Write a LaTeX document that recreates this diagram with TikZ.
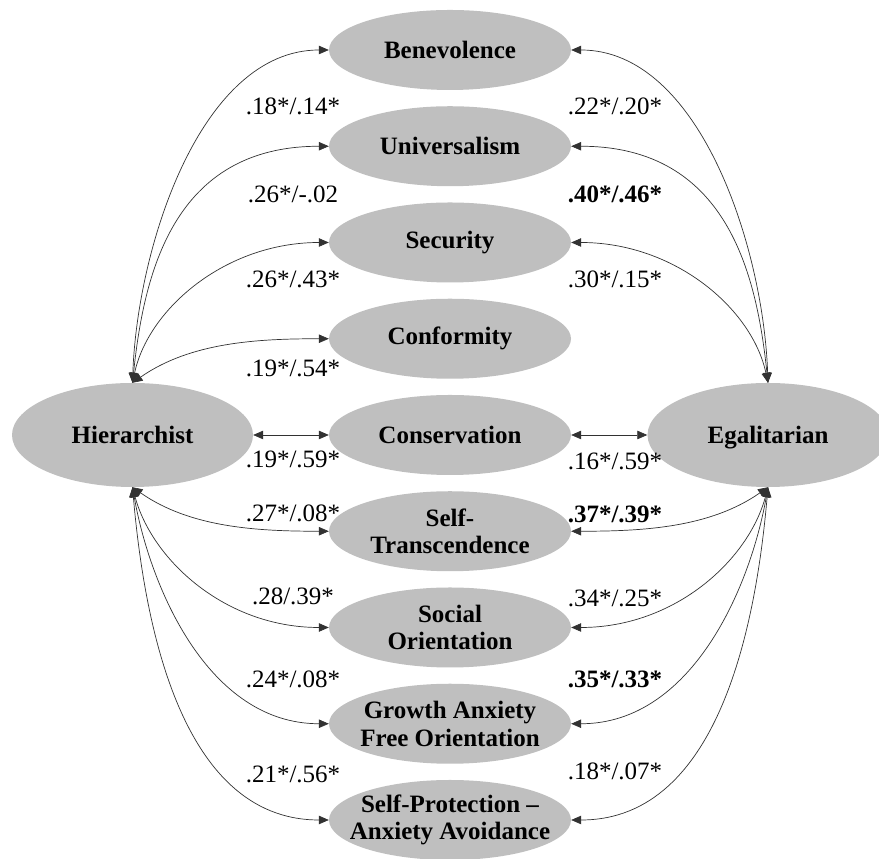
\documentclass[tikz,border=0pt]{standalone}
\usepackage{fontspec}
\setmainfont{Liberation Serif}
\usetikzlibrary{shapes.geometric,arrows.meta}
\definecolor{factorfill}{RGB}{191,191,191}
\definecolor{linkgray}{RGB}{50,50,50}
\begin{document}
\begin{tikzpicture}[x=1pt,y=1pt,
  factor/.style={ellipse, fill=factorfill, minimum width=242pt, minimum height=80pt,
    inner xsep=-22pt, inner ysep=0pt, align=center,
    font=\bfseries\fontsize{25}{27.5}\selectfont},
  pole/.style={factor, minimum width=241pt, minimum height=104pt,
    text height=16.5pt, text depth=0pt},
  link/.style={{Triangle[length=10pt,width=8.5pt]}-{Triangle[length=10pt,width=8.5pt]},
    line width=0.7pt, draw=linkgray},
  coef/.style={anchor=base, inner sep=0pt, font=\fontsize{25}{28}\selectfont},
  sig/.style={coef, font=\bfseries\fontsize{25}{28}\selectfont}]
\useasboundingbox (0,0) rectangle (879,859);

% value factors in the middle column
\node[factor] (bene) at (450,809)    {Benevolence};
\node[factor] (univ) at (450,712.75) {Universalism};
\node[factor] (secu) at (450,616.5)  {Security};
\node[factor] (conf) at (450,520.25) {Conformity};
\node[factor] (cons) at (450,424)    {Conservation};
\node[factor] (stra) at (450,327.75) {Self-\\Transcendence};
\node[factor] (soci) at (450,231.5)  {Social\\Orientation};
\node[factor] (grow) at (450,135.25) {Growth Anxiety\\Free Orientation};
\node[factor] (prot) at (450,39)     {Self-Protection –\\Anxiety Avoidance};

% worldview poles
\node[pole] (hier) at (132.5,424) {Hierarchist};
\node[pole] (egal) at (768,424)   {Egalitarian};

% hierarchist links
\draw[link] (hier.north) to[out=88, in=180, out looseness=0.9, in looseness=0.85] (bene.west);
\draw[link] (hier.north) to[out=84, in=180, out looseness=0.9, in looseness=1.3] (univ.west);
\draw[link] (hier.north) to[out=78, in=180, out looseness=0.8, in looseness=1.1] (secu.west);
\draw[link] (hier.north) to[out=35, in=180, looseness=0.9] (conf.west);
\draw[link] (hier.east) -- (cons.west);
\draw[link] (hier.south) to[out=-35, in=180, looseness=0.9] (stra.west);
\draw[link] (hier.south) to[out=-75, in=180, out looseness=0.8, in looseness=1.1] (soci.west);
\draw[link] (hier.south) to[out=-80, in=180, out looseness=0.85, in looseness=1.0] (grow.west);
\draw[link] (hier.south) to[out=-85, in=180, out looseness=0.85, in looseness=1.0] (prot.west);

% egalitarian links
\draw[link] (egal.north) to[out=92, in=0, out looseness=0.9, in looseness=0.85] (bene.east);
\draw[link] (egal.north) to[out=96, in=0, out looseness=0.9, in looseness=1.3] (univ.east);
\draw[link] (egal.north) to[out=102, in=0, out looseness=0.8, in looseness=1.1] (secu.east);
\draw[link] (cons.east) -- (egal.west);
\draw[link] (egal.south) to[out=215, in=0, looseness=0.9] (stra.east);
\draw[link] (egal.south) to[out=255, in=0, out looseness=0.8, in looseness=1.1] (soci.east);
\draw[link] (egal.south) to[out=260, in=0, out looseness=0.85, in looseness=1.0] (grow.east);
\draw[link] (egal.south) to[out=265, in=0, out looseness=0.85, in looseness=1.0] (prot.east);

% coefficients, hierarchist side
\node[coef] (c1) at (293,744) {.18*/.14*};
\node[coef] (c2) at (293,656) {.26*/-.02};
\node[coef] (c3) at (293,571) {.26*/.43*};
\node[coef] (c4) at (293,482) {.19*/.54*};
\node[coef] (c5) at (293,391) {.19*/.59*};
\node[coef] (c6) at (293,337) {.27*/.08*};
\node[coef] (c7) at (293,254) {.28/.39*};
\node[coef] (c8) at (293,171) {.24*/.08*};
\node[coef] (c9) at (293,76)  {.21*/.56*};

% coefficients, egalitarian side
\node[coef] (d1) at (615,744) {.22*/.20*};
\node[sig]  (d2) at (615,656) {.40*/.46*};
\node[coef] (d3) at (615,571) {.30*/.15*};
\node[coef] (d5) at (615,389) {.16*/.59*};
\node[sig]  (d6) at (615,336) {.37*/.39*};
\node[coef] (d7) at (615,252) {.34*/.25*};
\node[sig]  (d8) at (615,171) {.35*/.33*};
\node[coef] (d9) at (615,79)  {.18*/.07*};
\end{tikzpicture}
\end{document}
